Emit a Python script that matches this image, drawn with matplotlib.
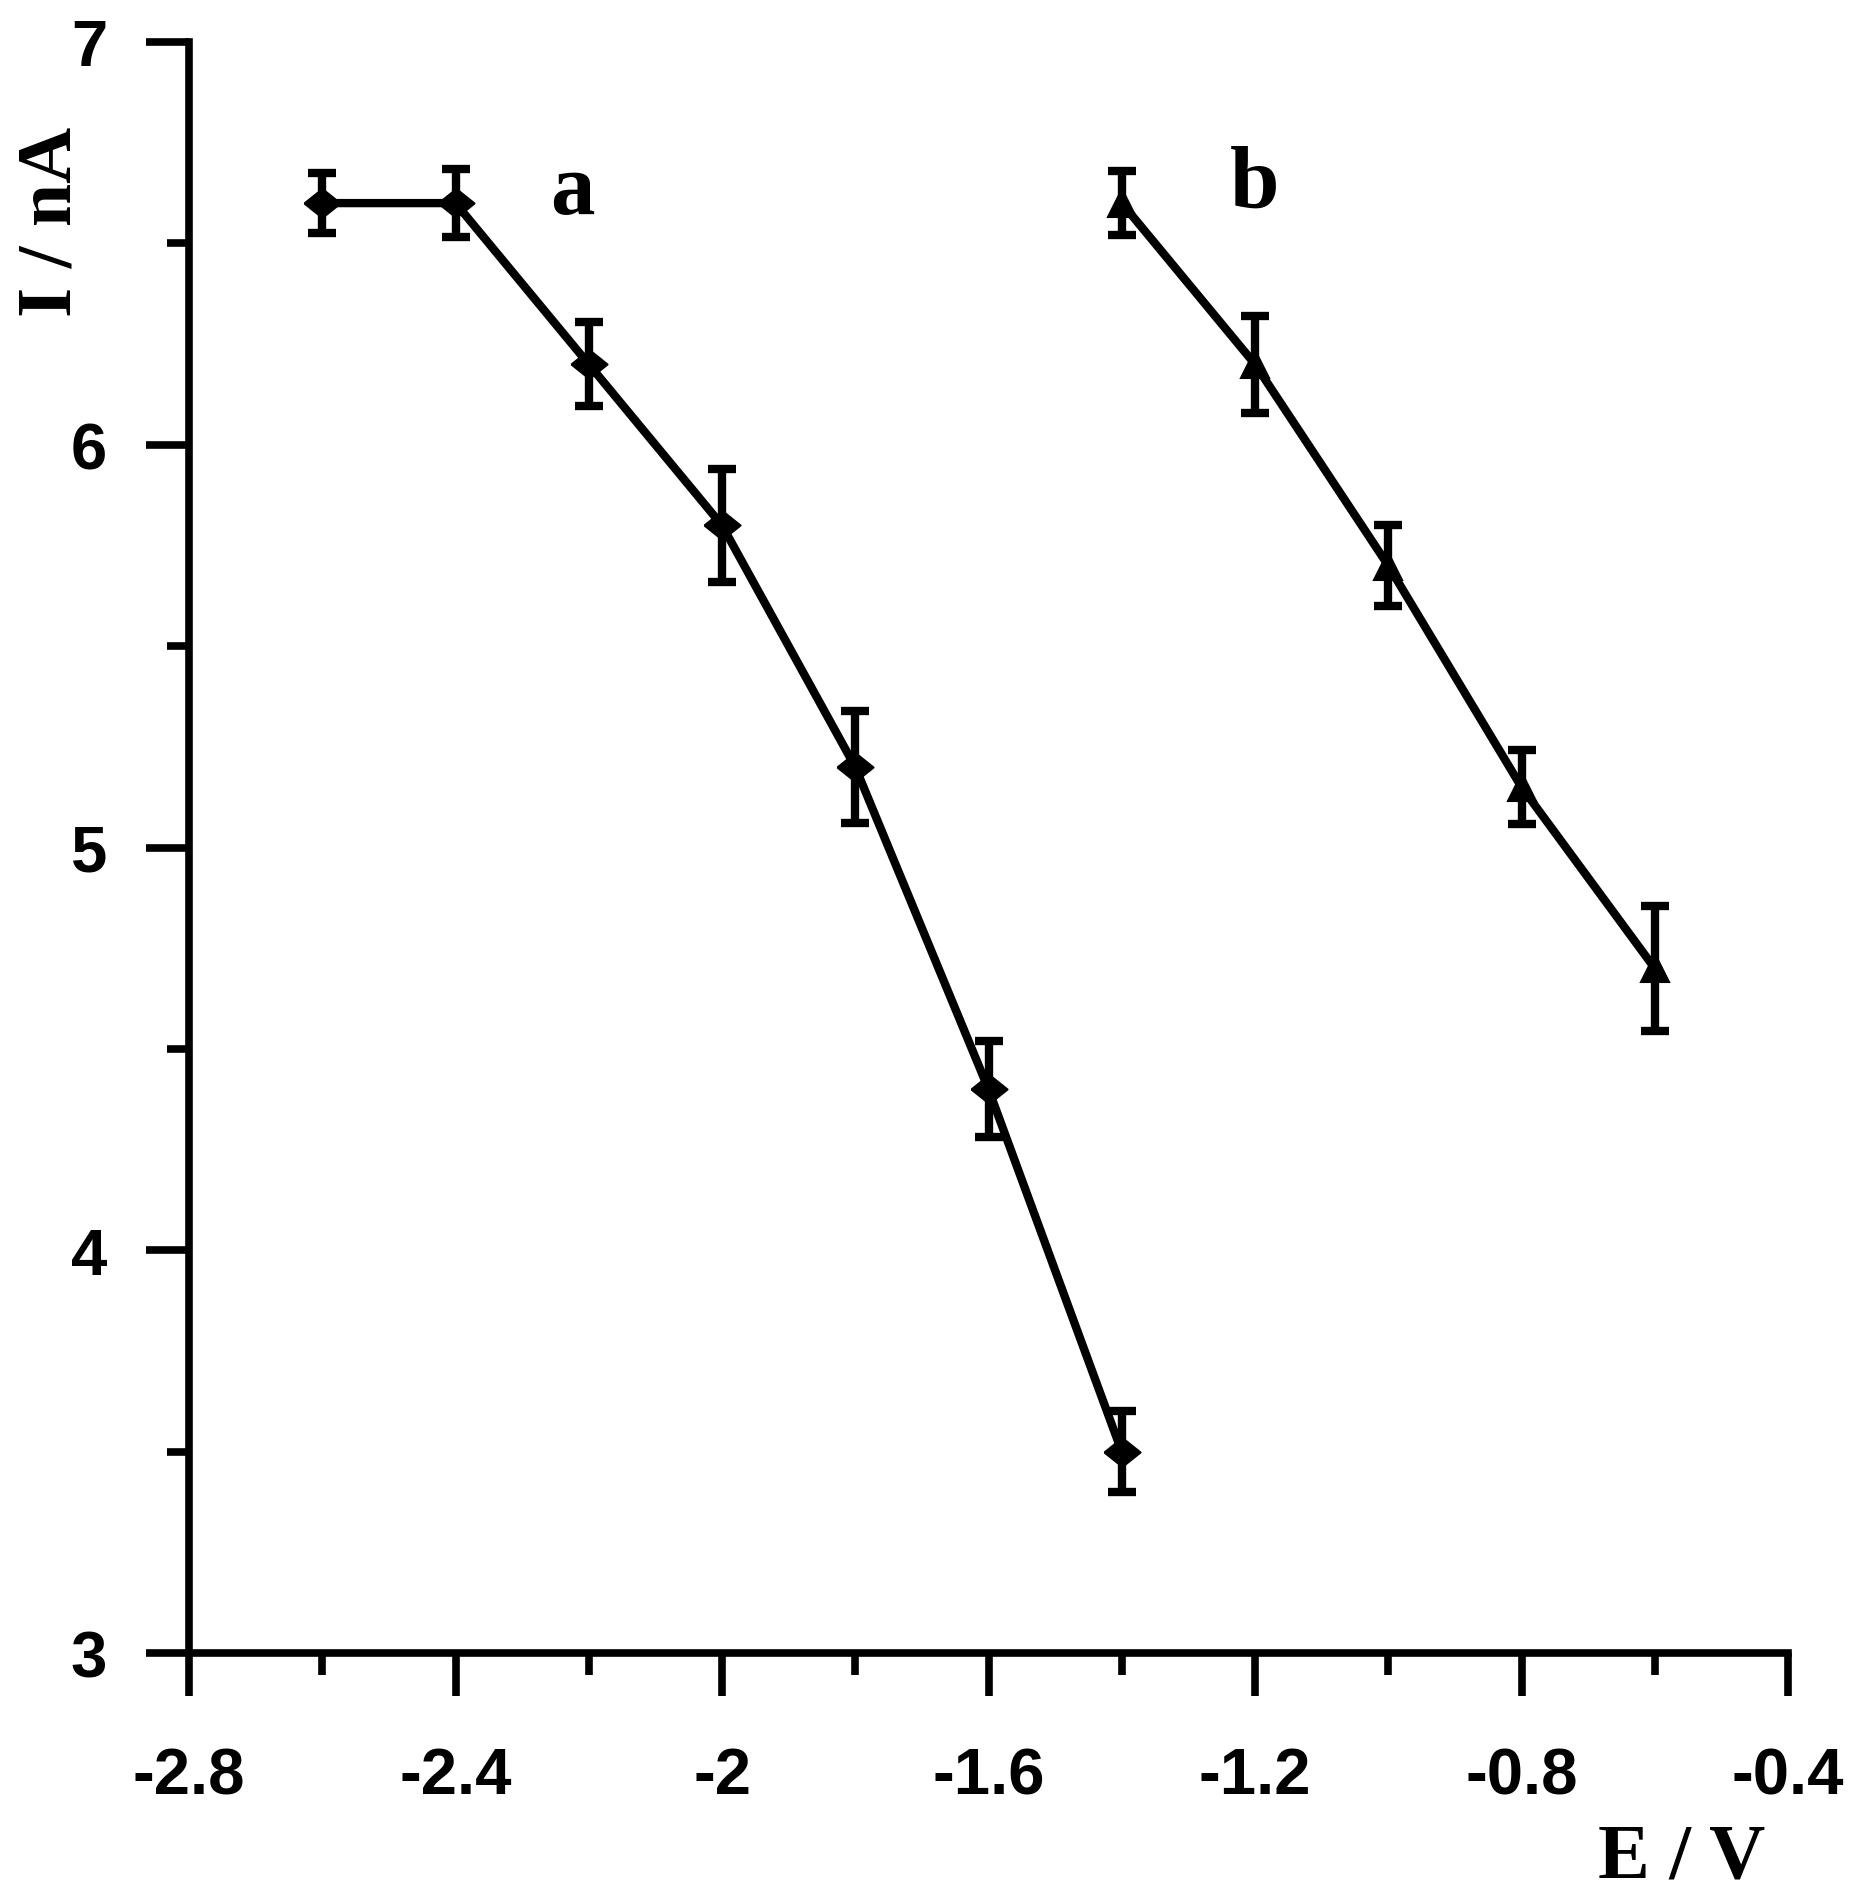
import matplotlib
matplotlib.use("Agg")
import matplotlib.pyplot as plt
from matplotlib.ticker import MultipleLocator, FixedLocator, FixedFormatter

# ---- data ----
E_a = [-2.6, -2.4, -2.2, -2.0, -1.8, -1.6, -1.4]
I_a = [6.6, 6.6, 6.2, 5.8, 5.2, 4.4, 3.5]
err_a = [0.075, 0.085, 0.105, 0.14, 0.14, 0.12, 0.10]

E_b = [-1.4, -1.2, -1.0, -0.8, -0.6]
I_b = [6.6, 6.2, 5.7, 5.15, 4.7]
err_b = [0.08, 0.12, 0.10, 0.092, 0.155]

xticks = [-2.8, -2.4, -2.0, -1.6, -1.2, -0.8, -0.4]
xticklabels = ["-2.8", "-2.4", "-2", "-1.6", "-1.2", "-0.8", "-0.4"]
yticks = [3, 4, 5, 6, 7]
yticklabels = ["3", "4", "5", "6", "7"]

W, H = 1867, 1899
fig = plt.figure(figsize=(W / 100, H / 100), dpi=100)
ax = fig.add_axes([189 / W, 1 - 1654 / H, (1788 - 189) / W, (1654 - 43) / H])

LW = 6.0
AXW = 5.5
diamond = [(-1, 0), (0, 0.8), (1, 0), (0, -0.8), (-1, 0)]

for E, I, err, mk, ms in [(E_a, I_a, err_a, diamond, 26),
                          (E_b, I_b, err_b, "^", 20)]:
    line, caps, bars = ax.errorbar(E, I, yerr=err, color="black", lw=LW,
                                   elinewidth=LW, capsize=10, capthick=LW,
                                   marker=mk, ms=ms, mfc="black",
                                   mec="black", zorder=3)
    line.set_markeredgewidth(1.5)
    line.set_solid_capstyle("round")
    line.set_solid_joinstyle("round")
    for c in caps:
        c.set_markeredgewidth(LW)
    for b in bars:
        b.set_capstyle("butt")

ax.set_xlim(-2.8, -0.4)
ax.set_ylim(3, 7)

for s in ["top", "right"]:
    ax.spines[s].set_visible(False)
for s in ["left", "bottom"]:
    ax.spines[s].set_linewidth(AXW)

ax.xaxis.set_major_locator(FixedLocator(xticks))
ax.xaxis.set_major_formatter(FixedFormatter(xticklabels))
ax.xaxis.set_minor_locator(MultipleLocator(0.2))
ax.yaxis.set_major_locator(FixedLocator(yticks))
ax.yaxis.set_major_formatter(FixedFormatter(yticklabels))
ax.yaxis.set_minor_locator(MultipleLocator(0.5))

ax.tick_params(which="major", direction="out", length=31, width=AXW)
ax.tick_params(which="minor", direction="out", length=16, width=AXW)
ax.tick_params(axis="x", which="major", pad=36)
ax.tick_params(axis="y", which="major", pad=28)

for lab in ax.get_xticklabels() + ax.get_yticklabels():
    lab.set_fontfamily("Liberation Sans")
    lab.set_fontweight("bold")
    lab.set_fontsize(47)

serif = dict(family="Liberation Serif", weight="bold")
ax.set_xlabel("E / V", fontsize=56, **serif)
ax.xaxis.set_label_coords(0.9337, -0.139)
ax.xaxis.label.set_verticalalignment("baseline")
ax.set_ylabel("I / nA", fontsize=56, **serif)
ax.yaxis.set_label_coords(-0.0744, 0.8889)
ax.yaxis.label.set_verticalalignment("baseline")

ax.text(-2.225, 6.575, "a", fontsize=64, ha="center", va="baseline", **serif)
ax.text(-1.2, 6.59, "b", fontsize=64, ha="center", va="baseline", **serif)

fig.savefig("out.png", dpi=100)
